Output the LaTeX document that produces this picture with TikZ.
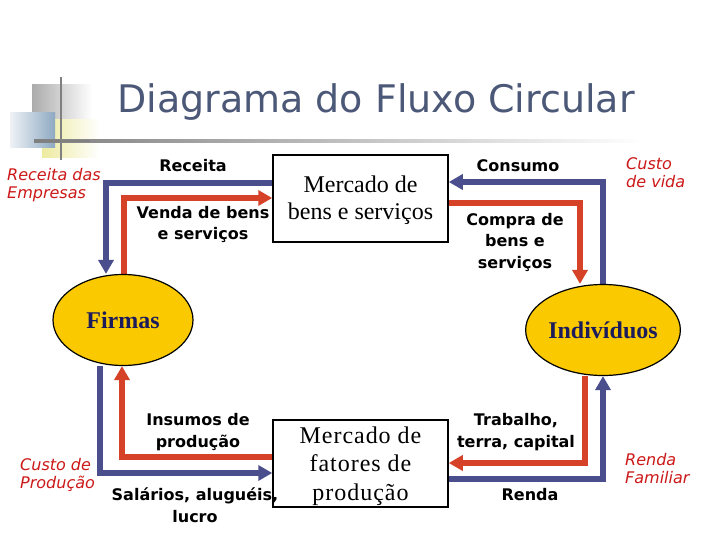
\documentclass[tikz,border=0pt]{standalone}
\usepackage{fontspec}
\setmainfont{Liberation Serif}
\newfontfamily\dv{DejaVu Sans}
\newfontfamily\boxtwo{Liberation Serif}[LetterSpace=4]
\usetikzlibrary{arrows.meta,shapes.geometric}
\pgfdeclarelayer{back}
\pgfdeclarelayer{bg}
\pgfsetlayers{back,bg,main}
\definecolor{navyc}{HTML}{4A4E8C}
\definecolor{redc}{HTML}{D64228}
\definecolor{yelc}{HTML}{FBC900}
\definecolor{titlec}{HTML}{4C5877}
\definecolor{redtxt}{HTML}{CC1818}
\definecolor{elltxt}{HTML}{1C1C5C}
\definecolor{decoblue}{HTML}{8EA9C2}
\definecolor{decoyel}{HTML}{EDEAA0}
\definecolor{decogray}{HTML}{ABABAB}
\tikzset{
  flow/.style={line width=5.5pt, line join=miter, -{Triangle[length=14pt,width=15pt]}},
  nv/.style={flow, draw=navyc, color=navyc},
  rd/.style={flow, draw=redc, color=redc},
  mbox/.style={draw, line width=1.5pt, minimum width=175pt, minimum height=87pt, inner sep=0pt, align=center, fill=white},
  ell/.style={ellipse, draw, line width=1.2pt, fill=yelc, minimum width=140pt, minimum height=91pt, inner sep=0pt, text=elltxt, font=\bfseries\fontsize{24}{26}\selectfont},
  lab/.style={font=\dv\bfseries\fontsize{16}{21.5}\selectfont, align=center, anchor=base, inner sep=0pt},
  note/.style={font=\dv\itshape\fontsize{16}{18}\selectfont, text=redtxt, align=left, anchor=base west, inner sep=0pt}
}
\begin{document}
\begin{tikzpicture}[x=1pt,y=-1pt]
\useasboundingbox (0,0) rectangle (720,540);
\begin{pgfonlayer}{back}
\fill[white] (0,0) rectangle (720,540);
\end{pgfonlayer}
% decoration
\shade[left color=decogray, right color=white] (32,85) rectangle (92,122);
\shade[left color=decoyel, right color=white] (42,120) rectangle (100,158);
\shade[left color=decoblue!15, right color=decoblue] (10,113) rectangle (55,148);
\draw[line width=2.5pt, draw=gray] (61,77) -- (61,160);
\shade[left color=gray, right color=white] (34,139.8) rectangle (645,142.2);
\fill[gray] (34,139.8) rectangle (90,142.2);
% title
\node[anchor=base, text=titlec, font=\dv\fontsize{38}{40}\selectfont, inner sep=0pt] (title) at (376,113) {Diagrama do Fluxo Circular};
% markets
\node[mbox, font=\fontsize{24}{27}\selectfont] (mb) at (360.5,198.5) {\rule{0pt}{20pt}Mercado de\\bens e serviços};
\node[mbox, font=\boxtwo\fontsize{24}{28.5}\selectfont] (mf) at (360.5,463.5) {\rule{0pt}{21.5pt}Mercado de\\fatores de\\produção};
% agents
\node[ell] (firmas) at (123,320) {Firmas};
\node[ell] (indiv) at (603,330) {Indivíduos};
% flows
\begin{pgfonlayer}{bg}
\draw[nv] (mb.west |- 0,183) -| (firmas.north -| 106,0);
\draw[rd] (firmas.north -| 124,0) |- (mb.west |- 0,198);
\draw[nv] (indiv.north -| 603,0) |- (mb.east |- 0,182);
\draw[rd] (mb.east |- 0,203) -| (indiv.north -| 580,0);
\draw[nv] (firmas.south -| 100,0) |- (mf.west |- 0,473);
\draw[rd] (mf.west |- 0,457) -| (firmas.south -| 122,0);
\draw[rd] (indiv.south -| 585,0) |- (mf.east |- 0,463);
\draw[nv] (mf.east |- 0,479) -| (indiv.south -| 603,0);
\end{pgfonlayer}
% flow labels (anchor = baseline of last line)
\node[lab] (l1) at (193,172) {Receita};
\node[lab] (l2) at (203,240) {Venda de bens\\e serviços};
\node[lab] (l3) at (518,172) {Consumo};
\node[lab] (l4) at (515,268) {Compra de\\bens e\\serviços};
\node[lab] (l5) at (198,447) {Insumos de\\produção};
\node[lab] (l6) at (195,522) {Salários, aluguéis,\\lucro};
\node[lab] (l7) at (516,447) {Trabalho,\\terra, capital};
\node[lab] (l8) at (530,500) {Renda};
% notes
\node[note] (n1) at (7,199) {Receita das\\Empresas};
\node[note] (n2) at (626,188) {Custo\\de vida};
\node[note] (n3) at (20,488) {Custo de\\Produção};
\node[note] (n4) at (625,483) {Renda\\Familiar};
\end{tikzpicture}
\end{document}
